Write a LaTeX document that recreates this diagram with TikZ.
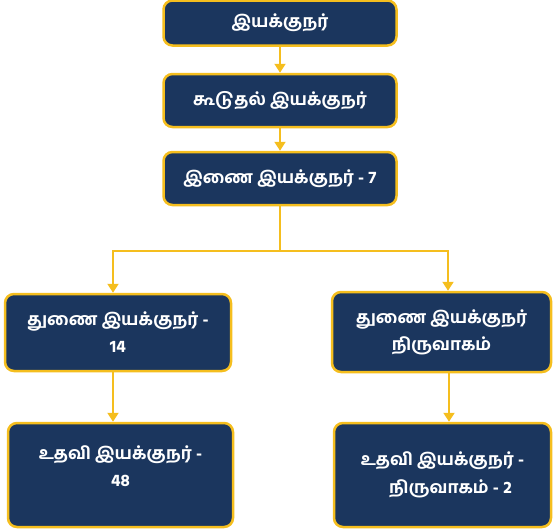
\documentclass[tikz,border=0pt]{standalone}
\usepackage{fontspec}
\newfontfamily\tamil[Script=Tamil,UprightFont={* Bold}]{Hind Madurai}
\usetikzlibrary{arrows.meta,calc}
\definecolor{navy}{HTML}{1B365E}
\definecolor{gold}{HTML}{F5BE1E}
\begin{document}
\begin{tikzpicture}[x=1pt,y=-1pt,
  box/.style={draw=gold,line width=2.5pt,fill=navy,rounded corners=9pt,
    text=white,font=\tamil\fontsize{17}{27}\selectfont,align=center,
    inner sep=0pt},
  link/.style={draw=gold,line width=2pt},
  arr/.style={link,-{Triangle[width=11pt,length=9pt]}}]
\useasboundingbox (0,0) rectangle (553,531);
\node[box,minimum width=233pt,minimum height=45pt] (b1) at (280,23) {இயக்குநர்};
\node[box,minimum width=233pt,minimum height=53pt] (b2) at (280,100.5) {கூடுதல் இயக்குநர்};
\node[box,minimum width=233pt,minimum height=53pt] (b3) at (280,178.5) {இணை இயக்குநர் - 7};
\node[box,minimum width=226pt,minimum height=77pt] (b4) at (118,332.5) {துணை இயக்குநர் -\\14};
\node[box,minimum width=219pt,minimum height=80pt] (b5) at (441.5,332) {\rule{0pt}{8pt}துணை இயக்குநர்\\நிருவாகம்};
\node[box,minimum width=225pt,minimum height=104pt,text depth=18pt] (b6) at (120.5,475) {உதவி இயக்குநர் -\\48};
\node[box,minimum width=217pt,minimum height=104pt,font=\tamil\fontsize{17}{28}\selectfont] (b7) at (442.5,475) {உதவி இயக்குநர் -\\\hspace*{16pt}நிருவாகம் - 2};
\coordinate (j) at (b3.south |- 0,251);
\draw[arr] (b1) -- (b2);
\draw[arr] (b2) -- (b3);
\draw[link] (b3.south) -- (j);
\draw[arr] (j) -| ([xshift=-5pt]b4.north);
\draw[arr] (j) -| ([xshift=6.5pt]b5.north);
\draw[arr] ([xshift=-5pt]b4.south) -- ([xshift=-5pt]b4.south |- b6.north);
\draw[arr] ([xshift=7.5pt]b5.south) -- ([xshift=7.5pt]b5.south |- b7.north);
\end{tikzpicture}
\end{document}
